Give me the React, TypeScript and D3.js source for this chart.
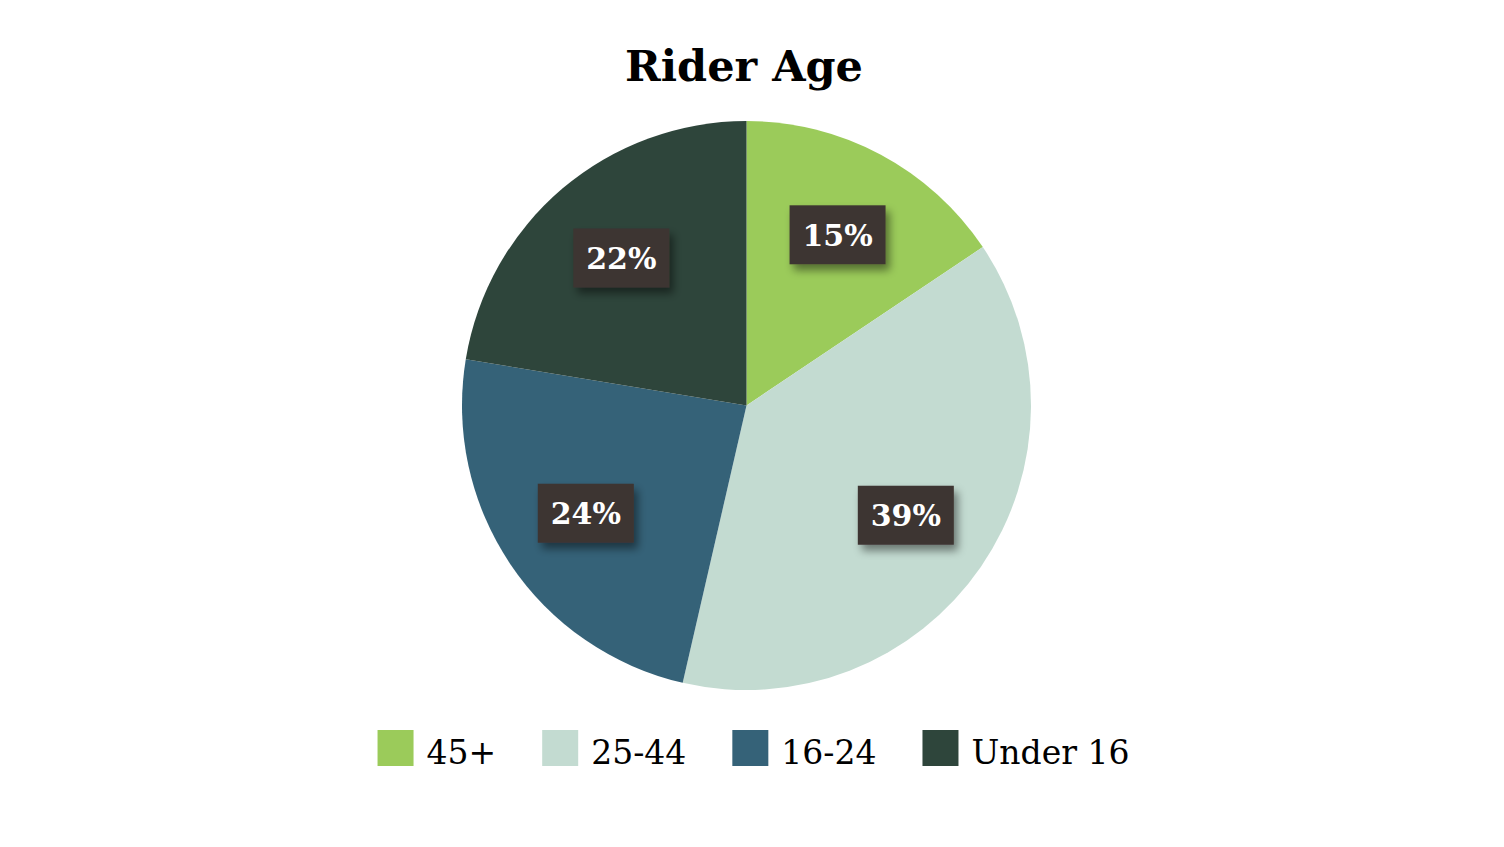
import React, { useEffect, useRef } from "react";
import * as d3 from "d3";

const categories = ["45+", "25-44", "16-24", "Under 16"];
const values = [15.6, 38.0, 24.0, 22.4];
const labels = ["15%", "39%", "24%", "22%"];
const colors = ["#9BCB5A", "#C3DBD1", "#356278", "#2E453B"];
const title = "Rider Age";

const W = 1504;
const H = 847;
const FONT = "'DejaVu Serif', serif";

export default function App() {
  const ref = useRef<SVGSVGElement | null>(null);

  useEffect(() => {
    const svg = d3.select(ref.current);
    svg.selectAll("*").remove();

    const defs = svg.append("defs");
    const f = defs
      .append("filter")
      .attr("id", "shadow")
      .attr("x", "-30%")
      .attr("y", "-30%")
      .attr("width", "170%")
      .attr("height", "180%");
    f.append("feDropShadow")
      .attr("dx", 4)
      .attr("dy", 6)
      .attr("stdDeviation", 4)
      .attr("flood-color", "#000")
      .attr("flood-opacity", 0.45);

    svg
      .append("text")
      .attr("x", 744)
      .attr("y", 81)
      .attr("text-anchor", "middle")
      .attr("font-family", FONT)
      .attr("font-weight", "bold")
      .attr("font-size", 43)
      .attr("fill", "#000")
      .text(title);

    const cx = 746.5;
    const cy = 405.5;
    const r = 284.5;

    const pie = d3
      .pie<number>()
      .sort(null)
      .value((d) => d);
    const arcs = pie(values);
    const arc = d3.arc<d3.PieArcDatum<number>>().innerRadius(0).outerRadius(r);
    const labelArc = d3
      .arc<d3.PieArcDatum<number>>()
      .innerRadius(r * 0.68)
      .outerRadius(r * 0.68);

    const g = svg.append("g").attr("transform", `translate(${cx},${cy})`);
    g.selectAll("path.slice")
      .data(arcs)
      .join("path")
      .attr("class", "slice")
      .attr("d", arc)
      .attr("fill", (_, i) => colors[i]);

    const lg = g
      .selectAll("g.lbl")
      .data(arcs)
      .join("g")
      .attr("class", "lbl")
      .attr("transform", (d) => {
        const [x, y] = labelArc.centroid(d);
        return `translate(${x},${y})`;
      });
    lg.append("rect")
      .attr("x", -48)
      .attr("y", -29.5)
      .attr("width", 96)
      .attr("height", 59)
      .attr("fill", "#3E3431")
      .attr("filter", "url(#shadow)");
    lg.append("text")
      .attr("text-anchor", "middle")
      .attr("y", 11)
      .attr("font-family", FONT)
      .attr("font-weight", "bold")
      .attr("font-size", 30)
      .attr("fill", "#fff")
      .text((_, i) => labels[i]);

    // legend
    const leg = svg.append("g");
    const items = leg
      .selectAll("g.item")
      .data(categories)
      .join("g")
      .attr("class", "item");
    items
      .append("rect")
      .attr("width", 36)
      .attr("height", 36)
      .attr("y", 730)
      .attr("fill", (_, i) => colors[i]);
    const texts = items
      .append("text")
      .attr("x", 49)
      .attr("y", 764)
      .attr("font-family", FONT)
      .attr("font-size", 33)
      .attr("fill", "#000")
      .text((d) => d);
    const widths: number[] = [];
    texts.each(function () {
      widths.push((this as SVGTextElement).getComputedTextLength());
    });
    const gap = 46;
    const itemW = widths.map((w) => 49 + w);
    const total = d3.sum(itemW) + gap * (itemW.length - 1);
    let x = 753.5 - total / 2;
    items.attr("transform", (_, i) => {
      const t = `translate(${x},0)`;
      x += itemW[i] + gap;
      return t;
    });
  }, []);

  return (
    <svg
      ref={ref}
      width={W}
      height={H}
      style={{ position: "absolute", left: 0, top: 0, background: "#fff" }}
    />
  );
}
